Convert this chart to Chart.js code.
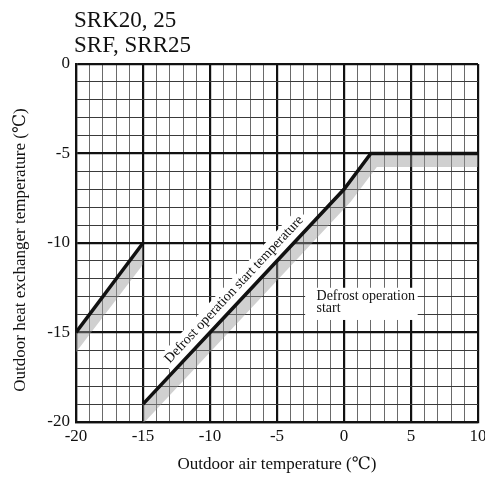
<!DOCTYPE html>
<html>
<head>
<meta charset="utf-8">
<script src="https://cdn.jsdelivr.net/npm/chart.js@4/dist/chart.umd.min.js"></script>
<style>
  html, body { margin: 0; padding: 0; background: #ffffff; }
  #wrap { width: 485px; height: 477px; }
</style>
</head>
<body>
<div id="wrap"><canvas id="c" width="485" height="477"></canvas></div>
<script>
// ---- Data ----
const titleLines = ['SRK20, 25', 'SRF, SRR25'];
const xAxisTitle = 'Outdoor air temperature (\u2103)';
const yAxisTitle = 'Outdoor heat exchanger temperature (\u2103)';
const slopeLabel = 'Defrost operation start temperature';
const regionLabel = ['Defrost operation', 'start'];

const xMin = -20, xMax = 10, yMin = -20, yMax = 0;
const xTickLabels = [-20, -15, -10, -5, 0, 5, 10];
const yTickLabels = [0, -5, -10, -15, -20];

// Left short line
const line1X = [-20, -15];
const line1Y = [-15, -10];
// Main line
const line2X = [-15, -10, 0, 2, 10];
const line2Y = [-19, -15, -7, -5, -5];
// Grey shading bands (polygons)
const band1X = [-20, -15, -15, -20];
const band1Y = [-15, -10, -11.2, -16.1];
const band2X = [-15, -10, 0, 2, 10, 10, 2.45, 0.5, -10, -15];
const band2Y = [-19, -15, -7, -5, -5, -5.75, -5.75, -7.7, -16.1, -20.1];

const pts = (xs, ys) => xs.map((x, i) => ({ x: x, y: ys[i] }));

const SERIF = "'Liberation Serif', 'Times New Roman', 'DejaVu Serif', serif";

const extras = {
  id: 'extras',
  beforeDatasetsDraw(chart) {
    const { ctx, scales: { x, y } } = chart;
    ctx.save();
    // rotated label along the main line
    const p1x = x.getPixelForValue(-10), p1y = y.getPixelForValue(-15);
    const p2x = x.getPixelForValue(0), p2y = y.getPixelForValue(-7);
    const ang = Math.atan2(p2y - p1y, p2x - p1x);
    const cx = x.getPixelForValue(-8.2), cy = y.getPixelForValue(-12.6);
    ctx.translate(cx, cy);
    ctx.rotate(ang);
    ctx.font = '14px ' + SERIF;
    const w = ctx.measureText(slopeLabel).width;
    ctx.fillStyle = '#ffffff';
    ctx.fillRect(-w / 2 - 4, -9, w + 8, 20);
    ctx.fillStyle = '#111111';
    ctx.textAlign = 'center';
    ctx.textBaseline = 'middle';
    ctx.fillText(slopeLabel, 0, 0);
    ctx.restore();

    // region label box
    ctx.save();
    const bx1 = x.getPixelForValue(-2.9), bx2 = x.getPixelForValue(5.5);
    const by1 = y.getPixelForValue(-12.5), by2 = y.getPixelForValue(-14.3);
    ctx.fillStyle = '#ffffff';
    ctx.fillRect(bx1, by1, bx2 - bx1, by2 - by1);
    ctx.fillStyle = '#111111';
    ctx.font = '14px ' + SERIF;
    ctx.textAlign = 'left';
    ctx.textBaseline = 'alphabetic';
    const tx = x.getPixelForValue(-2.05);
    ctx.fillText(regionLabel[0], tx, y.getPixelForValue(-12.95) + 4);
    ctx.fillText(regionLabel[1], tx, y.getPixelForValue(-13.65) + 4);
    ctx.restore();
  },
  afterDraw(chart) {
    const { ctx, chartArea } = chart;
    ctx.save();
    ctx.fillStyle = '#111111';
    ctx.font = '23px ' + SERIF;
    ctx.textAlign = 'left';
    ctx.textBaseline = 'alphabetic';
    ctx.fillText(titleLines[0], 74, 27);
    ctx.fillText(titleLines[1], 74, 52);

    ctx.font = '17px ' + SERIF;
    ctx.textAlign = 'center';
    ctx.textBaseline = 'middle';
    ctx.fillText(xAxisTitle, (chartArea.left + chartArea.right) / 2, 465);

    ctx.translate(21, 250);
    ctx.rotate(-Math.PI / 2);
    ctx.fillText(yAxisTitle, 0, 0);
    ctx.restore();
  }
};

const gridW = (ctx) => (ctx.tick && Math.round(ctx.tick.value) % 5 === 0) ? 2.2 : 1;

new Chart(document.getElementById('c'), {
  type: 'line',
  data: {
    datasets: [
      { data: pts(line2X, line2Y), borderColor: '#111111', borderWidth: 3.5, pointRadius: 0, fill: false, order: 0, tension: 0, borderCapStyle: 'butt', borderJoinStyle: 'miter' },
      { data: pts(line1X, line1Y), borderColor: '#111111', borderWidth: 3.5, pointRadius: 0, fill: false, order: 0, tension: 0 },
      { data: pts(band2X, band2Y), borderWidth: 0, borderColor: 'rgba(0,0,0,0)', backgroundColor: 'rgba(150,150,150,0.45)', pointRadius: 0, fill: 'shape', order: 1, tension: 0 },
      { data: pts(band1X, band1Y), borderWidth: 0, borderColor: 'rgba(0,0,0,0)', backgroundColor: 'rgba(150,150,150,0.45)', pointRadius: 0, fill: 'shape', order: 1, tension: 0 }
    ]
  },
  options: {
    responsive: false,
    animation: false,
    devicePixelRatio: 1,
    layout: { padding: { top: 64, right: 7, left: 0, bottom: 0 } },
    plugins: { legend: { display: false }, tooltip: { enabled: false }, title: { display: false } },
    scales: {
      x: {
        type: 'linear', min: xMin, max: xMax,
        afterFit(s) { s.height = 55; s.paddingLeft = 0; s.paddingRight = 0; },
        afterBuildTicks(s) { s.ticks = []; for (let v = xMin; v <= xMax; v++) s.ticks.push({ value: v }); },
        ticks: {
          autoSkip: false, maxRotation: 0, padding: 4,
          color: '#111111', font: { family: SERIF, size: 17 },
          callback: (v) => xTickLabels.includes(v) ? String(v) : ''
        },
        grid: { drawTicks: false, color: (c) => (c.tick && Math.round(c.tick.value) % 5 === 0) ? '#111111' : '#6a6a6a', lineWidth: gridW },
        border: { display: true, color: '#111111', width: 2.2 }
      },
      y: {
        type: 'linear', min: yMin, max: yMax,
        afterFit(s) { s.width = 76; s.paddingTop = 0; s.paddingBottom = 0; },
        afterBuildTicks(s) { s.ticks = []; for (let v = yMin; v <= yMax; v++) s.ticks.push({ value: v }); },
        ticks: {
          autoSkip: false, padding: 6,
          color: '#111111', font: { family: SERIF, size: 17 },
          callback: (v) => yTickLabels.includes(v) ? String(v) : ''
        },
        grid: { drawTicks: false, color: (c) => (c.tick && Math.round(c.tick.value) % 5 === 0) ? '#111111' : '#3a3a3a', lineWidth: gridW },
        border: { display: true, color: '#111111', width: 2.2 }
      }
    }
  },
  plugins: [extras]
});
</script>
</body>
</html>
